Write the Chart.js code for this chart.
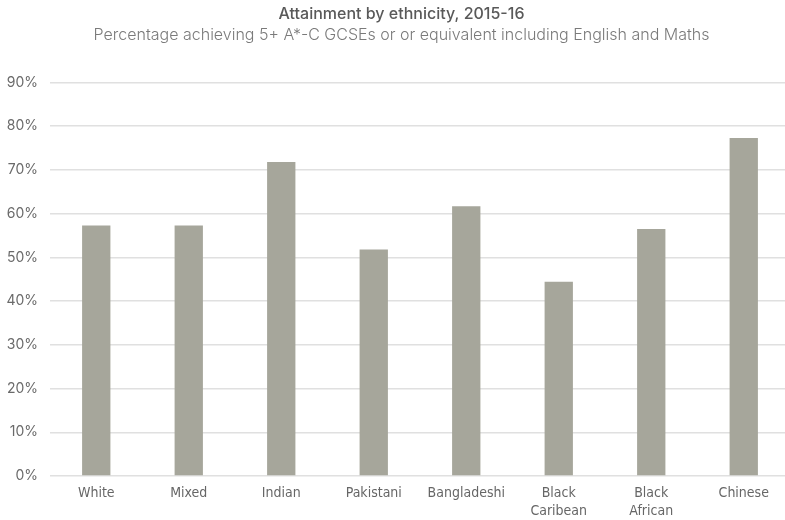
<!DOCTYPE html>
<html>
<head>
<meta charset="utf-8">
<script src="https://cdn.jsdelivr.net/npm/chart.js@4"></script>
<style>
  html, body { margin: 0; padding: 0; background: #fff; overflow: hidden; }
  #wrap { width: 785px; height: 520px; overflow: hidden; }
</style>
</head>
<body>
<div id="wrap"><canvas id="c" width="803" height="520"></canvas></div>
<script>
const categories = ['White', 'Mixed', 'Indian', 'Pakistani', 'Bangladeshi', ['Black', 'Caribean'], ['Black', 'African'], 'Chinese'];
const attainment = [57.3, 57.3, 71.8, 51.8, 61.7, 44.4, 56.5, 77.3];
const yTicks = [0, 10, 20, 30, 40, 50, 60, 70, 80, 90];
const titleText = 'Attainment by ethnicity, 2015-16';
const subtitleText = 'Percentage achieving 5+ A*-C GCSEs or or equivalent including English and Maths';

// shift the title blocks a little to the right, as in the reference
const titleShift = {
  id: 'titleShift',
  afterLayout(chart) {
    const T = chart.titleBlock && chart.titleBlock.constructor;
    chart.boxes.forEach(b => {
      if (T && b instanceof T) { b.left += 6.5; b.right += 6.5; }
    });
  }
};

new Chart(document.getElementById('c'), {
  type: 'bar',
  data: {
    labels: categories,
    datasets: [{
      data: attainment,
      backgroundColor: '#a6a69b',
      borderWidth: 0,
      categoryPercentage: 1.0,
      barPercentage: 0.306
    }]
  },
  plugins: [titleShift],
  options: {
    responsive: false,
    animation: false,
    layout: { padding: { left: 0, right: 13, top: 5, bottom: 0 } },
    plugins: {
      legend: { display: false },
      tooltip: { enabled: false },
      title: {
        display: true,
        text: titleText,
        color: '#595959',
        font: { family: 'Inter', size: 16, weight: '500' },
        padding: { top: 0, bottom: 1 }
      },
      subtitle: {
        display: true,
        text: subtitleText,
        color: '#7a7a7a',
        font: { family: 'Inter', size: 16, weight: '300' },
        padding: { top: 0, bottom: 38 }
      }
    },
    scales: {
      x: {
        grid: { display: false, drawTicks: false },
        border: { display: false },
        afterFit: (scale) => { scale.height = 44; },
        ticks: {
          color: '#666666',
          font: { family: 'DejaVu Sans Condensed', size: 14, lineHeight: 1.3 },
          padding: 8,
          maxRotation: 0,
          autoSkip: false
        }
      },
      y: {
        min: 0,
        max: 90,
        afterBuildTicks: (scale) => { scale.ticks = yTicks.map(v => ({ value: v })); },
        afterFit: (scale) => { scale.width = 50; },
        grid: { color: '#e0e0e0', lineWidth: 1.5, drawTicks: false },
        border: { display: false },
        ticks: {
          color: '#6a6a6a',
          font: { family: 'Inter', size: 14 },
          padding: 12,
          callback: (v) => v + '%'
        }
      }
    }
  }
});
</script>
</body>
</html>
